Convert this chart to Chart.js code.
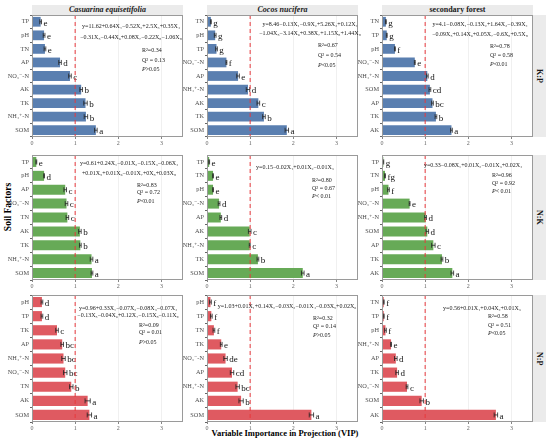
<!DOCTYPE html>
<html>
<head>
<meta charset="utf-8">
<script src="https://cdn.jsdelivr.net/npm/chart.js@4.4.1/dist/chart.umd.min.js"></script>
<style>
  body { margin: 0; background: #fff; width: 550px; height: 442px; position: relative; overflow: hidden; font-family: "Liberation Serif", serif; }
  .panel { position: absolute; }
  .strip { position: absolute; background: #ebebeb; color: #1a1a1a; font-weight: bold; font-size: 8px; text-align: center; line-height: 10px; }
  .rstrip { position: absolute; background: #ebebeb; color: #1a1a1a; font-weight: bold; font-size: 8px; writing-mode: vertical-rl; text-align: center; line-height: 13px; }
  #ytitle { position: absolute; left: -22px; top: 202px; width: 60px; text-align: center; font-weight: bold; font-size: 9.5px; transform: rotate(-90deg); }
  #xtitle { position: absolute; left: 190px; top: 428px; width: 190px; text-align: center; font-weight: bold; font-size: 8.5px; }
</style>
</head>
<body>
<div id="ytitle">Soil Factors</div>
<div id="xtitle">Variable Importance in Projection (VIP)</div>
<script>
// ---- data, rows K:P / N:K / N:P, columns Casuarina / Cocos / secondary forest ----
const kpCasFactors = ['TP', 'pH', 'TN', 'AP', 'NO₃⁻-N', 'AK', 'TK', 'NH₄⁺-N', 'SOM'];
const kpCasVip = [0.20, 0.28, 0.30, 0.65, 0.88, 1.14, 1.24, 1.25, 1.48];
const kpCasErr = [0.02, 0.02, 0.02, 0.03, 0.03, 0.03, 0.04, 0.04, 0.03];
const kpCasSig = ['e', 'e', 'e', 'd', 'c', 'b', 'b', 'b', 'a'];

const kpCocFactors = ['TN', 'pH', 'TP', 'NO₃⁻-N', 'AP', 'NH₄⁺-N', 'AK', 'TK', 'SOM'];
const kpCocVip = [0.09, 0.19, 0.22, 0.45, 0.72, 0.95, 1.19, 1.32, 1.85];
const kpCocErr = [0.01, 0.02, 0.02, 0.01, 0.03, 0.04, 0.03, 0.03, 0.04];
const kpCocSig = ['g', 'g', 'g', 'f', 'e', 'd', 'c', 'b', 'a'];

const kpSecFactors = ['TN', 'TP', 'pH', 'NO₃⁻-N', 'NH₄⁺-N', 'SOM', 'AP', 'TK', 'AK'];
const kpSecVip = [0.09, 0.11, 0.30, 0.76, 1.05, 1.11, 1.17, 1.25, 1.61];
const kpSecErr = [0.01, 0.01, 0.01, 0.01, 0.02, 0.02, 0.02, 0.02, 0.02];
const kpSecSig = ['g', 'g', 'f', 'e', 'd', 'cd', 'bc', 'b', 'a'];

const nkCasFactors = ['TP', 'pH', 'AP', 'NO₃⁻-N', 'TN', 'AK', 'TK', 'NH₄⁺-N', 'SOM'];
const nkCasVip = [0.10, 0.28, 0.77, 0.80, 0.82, 1.11, 1.12, 1.38, 1.39];
const nkCasErr = [0.01, 0.01, 0.03, 0.03, 0.03, 0.03, 0.02, 0.03, 0.02];
const nkCasSig = ['e', 'd', 'c', 'c', 'c', 'b', 'b', 'a', 'a'];

const nkCocFactors = ['TP', 'TN', 'pH', 'NO₃⁻-N', 'AP', 'AK', 'NH₄⁺-N', 'TK', 'SOM'];
const nkCocVip = [0.05, 0.14, 0.14, 0.28, 0.32, 0.99, 0.99, 1.18, 2.22];
const nkCocErr = [0.01, 0.01, 0.01, 0.02, 0.02, 0.03, 0.01, 0.02, 0.03];
const nkCocSig = ['e', 'e', 'e', 'd', 'd', 'c', 'c', 'b', 'a'];

const nkSecFactors = ['TP', 'TN', 'pH', 'NO₃⁻-N', 'NH₄⁺-N', 'SOM', 'AP', 'TK', 'AK'];
const nkSecVip = [0.03, 0.07, 0.15, 0.64, 1.01, 1.05, 1.19, 1.39, 1.63];
const nkSecErr = [0.01, 0.01, 0.02, 0.01, 0.02, 0.03, 0.04, 0.02, 0.03];
const nkSecSig = ['g', 'fg', 'f', 'e', 'd', 'd', 'c', 'b', 'a'];

const npCasFactors = ['pH', 'TP', 'TK', 'AP', 'NH₄⁺-N', 'NO₃⁻-N', 'TN', 'AK', 'SOM'];
const npCasVip = [0.23, 0.23, 0.58, 0.70, 0.73, 0.77, 0.91, 1.29, 1.33];
const npCasErr = [0.02, 0.02, 0.03, 0.03, 0.04, 0.04, 0.04, 0.06, 0.05];
const npCasSig = ['d', 'd', 'c', 'bc', 'bc', 'bc', 'b', 'a', 'a'];

const npCocFactors = ['pH', 'TP', 'TN', 'TK', 'NO₃⁻-N', 'AP', 'NH₄⁺-N', 'AK', 'SOM'];
const npCocVip = [0.08, 0.10, 0.16, 0.33, 0.43, 0.58, 0.71, 0.79, 2.42];
const npCocErr = [0.02, 0.02, 0.02, 0.02, 0.04, 0.04, 0.04, 0.05, 0.05];
const npCocSig = ['f', 'f', 'f', 'e', 'de', 'cd', 'bc', 'b', 'a'];

const npSecFactors = ['TN', 'TP', 'pH', 'NH₄⁺-N', 'AP', 'TK', 'NO₃⁻-N', 'SOM', 'AK'];
const npSecVip = [0.04, 0.04, 0.08, 0.21, 0.32, 0.35, 0.58, 0.92, 2.64];
const npSecErr = [0.01, 0.01, 0.02, 0.01, 0.03, 0.03, 0.02, 0.04, 0.04];
const npSecSig = ['f', 'f', 'f', 'e', 'd', 'd', 'c', 'b', 'a'];

const siteNames = ['Casuarina equisetifolia', 'Cocos nucifera', 'secondary forest'];
const ratioNames = ['K:P', 'N:K', 'N:P'];

const kpEquations = [
  ['y=11.62+0.64X₁−0.52X₂+2.5X₃+0.35X₄', '−0.31X₅−0.44X₆+0.08X₇−0.22X₈−1.06X₉'],
  ['y=8.46−0.13X₁−0.9X₂+5.26X₃+0.12X₄', '−1.04X₅−3.14X₆+0.38X₇+1.15X₈+1.44X₉'],
  ['y=4.1−0.08X₁−0.13X₂+1.64X₃−0.39X₄', '−0.09X₅+0.14X₆+0.05X₇−0.6X₈+0.5X₉']
];
const nkEquations = [
  ['y=0.61+0.24X₁−0.01X₂−0.15X₃−0.06X₄', '+0.01X₅+0.01X₆−0.01X₇+0X₈+0.03X₉'],
  ['y=0.15−0.02X₁+0.01X₂−0.01X₃'],
  ['y=0.33−0.08X₁+0.01X₂−0.01X₃+0.02X₄']
];
const npEquations = [
  ['y=0.96+0.33X₁−0.07X₂−0.08X₃−0.07X₄', '−0.13X₅−0.04X₆+0.12X₇−0.15X₈−0.11X₉'],
  ['y=1.03+0.01X₁+0.14X₂−0.03X₃−0.01X₄−0.03X₅+0.02X₆'],
  ['y=0.56+0.01X₁+0.04X₂+0.01X₃']
];
const kpR2 = ['0.34', '0.67', '0.78'], kpQ2 = ['0.13', '0.54', '0.58'], kpP = ['>0.05', '<0.05', '<0.01'];
const nkR2 = ['0.83', '0.80', '0.96'], nkQ2 = ['0.72', '0.67', '0.92'], nkP = ['<0.01', '< 0.01', '< 0.01'];
const npR2 = ['0.09', '0.32', '0.58'], npQ2 = ['0.01', '0.14', '0.51'], npP = ['>0.05', '>0.05', '<0.05'];

// ---- layout ----
const colX = [32, 207, 382];
const rowY = [15, 155, 295];
const rowH = [122, 125, 127];
const plotW = 151;
const rowColors = ['#5a7fb0', '#67aa57', '#df5a61'];
// equation centre x / line tops, stats left x / line tops, relative to plot area
const notePos = [
  [{ ex: 99, ey: [8, 19], sx: 110, sy: [32, 42, 51] }, { ex: 103, ey: [6, 15], sx: 111, sy: [27, 37, 47] }, { ex: 98, ey: [6, 16], sx: 108, sy: [28, 37, 46] }],
  [{ ex: 97, ey: [5, 15], sx: 105, sy: [27, 34, 43] }, { ex: 88, ey: [9], sx: 105, sy: [22, 30, 38] }, { ex: 91, ey: [7], sx: 110, sy: [17, 25, 33] }],
  [{ ex: 96, ey: [10, 17], sx: 107, sy: [27, 34, 44] }, { ex: 80, ey: [8], sx: 106, sy: [20, 28, 37] }, { ex: 100, ey: [10], sx: 106, sy: [18, 27, 35] }]
];

const rows = [
  { f: [kpCasFactors, kpCocFactors, kpSecFactors], v: [kpCasVip, kpCocVip, kpSecVip], e: [kpCasErr, kpCocErr, kpSecErr], s: [kpCasSig, kpCocSig, kpSecSig], eq: kpEquations, r2: kpR2, q2: kpQ2, p: kpP },
  { f: [nkCasFactors, nkCocFactors, nkSecFactors], v: [nkCasVip, nkCocVip, nkSecVip], e: [nkCasErr, nkCocErr, nkSecErr], s: [nkCasSig, nkCocSig, nkSecSig], eq: nkEquations, r2: nkR2, q2: nkQ2, p: nkP },
  { f: [npCasFactors, npCocFactors, npSecFactors], v: [npCasVip, npCocVip, npSecVip], e: [npCasErr, npCocErr, npSecErr], s: [npCasSig, npCocSig, npSecSig], eq: npEquations, r2: npR2, q2: npQ2, p: npP }
];

const SERIF = '"Liberation Serif", "DejaVu Serif", serif';

const panelDecor = {
  id: 'panelDecor',
  afterDatasetsDraw(chart, args, o) {
    const { ctx, chartArea: a, scales: { x } } = chart;
    const meta = chart.getDatasetMeta(0);
    ctx.save();
    // error bars + significance letters
    meta.data.forEach((bar, i) => {
      const x0 = x.getPixelForValue(o.vip[i] - o.err[i]);
      const x1 = x.getPixelForValue(o.vip[i] + o.err[i]);
      const cy = bar.y;
      ctx.strokeStyle = '#222';
      ctx.lineWidth = 0.8;
      ctx.beginPath();
      ctx.moveTo(x0, cy); ctx.lineTo(x1, cy);
      ctx.moveTo(x0, cy - 2.5); ctx.lineTo(x0, cy + 2.5);
      ctx.moveTo(x1, cy - 2.5); ctx.lineTo(x1, cy + 2.5);
      ctx.stroke();
      ctx.fillStyle = '#111';
      ctx.font = '9px ' + SERIF;
      ctx.textAlign = 'left';
      ctx.textBaseline = 'middle';
      ctx.fillText(o.sig[i], x1 + 2, cy + 1.5);
    });
    // reference line at VIP = 1
    const xr = x.getPixelForValue(1);
    ctx.strokeStyle = '#e8383d';
    ctx.lineWidth = 1;
    ctx.setLineDash([4, 3]);
    ctx.beginPath();
    ctx.moveTo(xr, a.top); ctx.lineTo(xr, a.bottom);
    ctx.stroke();
    ctx.setLineDash([]);
    // panel border
    ctx.strokeStyle = '#9a9a9a';
    ctx.lineWidth = 1;
    ctx.strokeRect(a.left + 0.5, a.top + 0.5, a.width - 1, a.height - 1);
    // model equation and stats
    const pos = o.pos;
    ctx.fillStyle = '#222';
    ctx.font = '6px ' + SERIF;
    ctx.textBaseline = 'top';
    ctx.textAlign = 'center';
    o.eq.forEach((line, k) => ctx.fillText(line, a.left + pos.ex, a.top + pos.ey[k]));
    ctx.textAlign = 'left';
    ctx.fillText('R²=' + o.r2, a.left + pos.sx, a.top + pos.sy[0]);
    ctx.fillText('Q² = ' + o.q2, a.left + pos.sx, a.top + pos.sy[1]);
    ctx.font = 'italic 6px ' + SERIF;
    ctx.fillText('P', a.left + pos.sx, a.top + pos.sy[2]);
    const pw = ctx.measureText('P').width;
    ctx.font = '6px ' + SERIF;
    ctx.fillText(o.p, a.left + pos.sx + pw, a.top + pos.sy[2]);
    ctx.restore();
  }
};

function addDiv(cls, left, top, w, h, html) {
  const d = document.createElement('div');
  d.className = cls;
  d.style.left = left + 'px';
  d.style.top = top + 'px';
  d.style.width = w + 'px';
  d.style.height = h + 'px';
  if (html) d.innerHTML = html;
  document.body.appendChild(d);
  return d;
}

// top strips
siteNames.forEach((name, c) => {
  const d = addDiv('strip', colX[c], 5, plotW, 10, name);
  if (c < 2) d.style.fontStyle = 'italic';
});

rows.forEach((row, r) => {
  // right strip
  addDiv('rstrip', 533, rowY[r], 13, rowH[r], ratioNames[r]);
  for (let c = 0; c < 3; c++) {
    const wrap = addDiv('panel', colX[c] - 32, rowY[r], plotW + 35, rowH[r] + 12);
    const cv = document.createElement('canvas');
    cv.width = plotW + 35;
    cv.height = rowH[r] + 12;
    wrap.appendChild(cv);

    new Chart(cv, {
      type: 'bar',
      data: {
        labels: row.f[c],
        datasets: [{
          data: row.v[c],
          backgroundColor: rowColors[r],
          borderWidth: 0,
          barPercentage: 0.72,
          categoryPercentage: 1
        }]
      },
      options: {
        indexAxis: 'y',
        responsive: false,
        animation: false,
        layout: { padding: { left: 0, right: 3, top: 0, bottom: 0 } },
        plugins: {
          legend: { display: false },
          tooltip: { enabled: false },
          panelDecor: {
            vip: row.v[c], err: row.e[c], sig: row.s[c],
            eq: row.eq[c], r2: row.r2[c], q2: row.q2[c], p: row.p[c],
            pos: notePos[r][c]
          }
        },
        scales: {
          x: {
            min: 0, max: 3.5,
            ticks: { stepSize: 1, color: '#666', font: { family: SERIF, size: 6 }, padding: 1, maxRotation: 0 },
            grid: { color: '#ececec', lineWidth: 0.8, tickColor: '#666', tickLength: 2 },
            border: { display: false },
            afterBuildTicks(s) { s.ticks = s.ticks.filter(t => Number.isInteger(t.value)); },
            afterFit(s) { s.height = 12; s.paddingLeft = 0; s.paddingRight = 0; }
          },
          y: {
            ticks: { color: '#4d4d4d', font: { family: SERIF, size: 6.3 }, padding: 1, autoSkip: false },
            grid: { display: true, drawOnChartArea: false, tickColor: '#666', tickLength: 2 },
            border: { display: false },
            afterFit(s) { s.width = 32; s.paddingTop = 0; s.paddingBottom = 0; }
          }
        }
      },
      plugins: [panelDecor]
    });
  }
});
</script>
</body>
</html>
